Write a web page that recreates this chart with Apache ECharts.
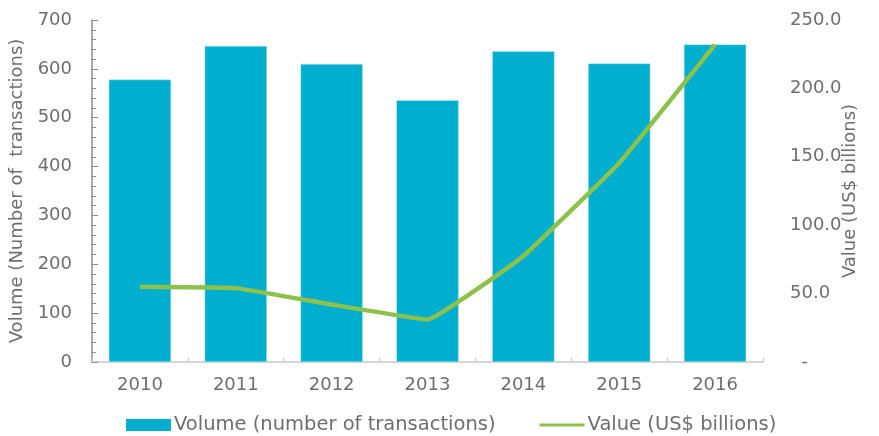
<!DOCTYPE html>
<html>
<head>
<meta charset="utf-8">
<script src="https://cdn.jsdelivr.net/npm/echarts@6/dist/echarts.min.js"></script>
<style>
  html, body { margin: 0; padding: 0; background: #fff; }
  #chart { width: 879px; height: 436px; }
</style>
</head>
<body>
<div id="chart"></div>
<script>
const years = ['2010', '2011', '2012', '2013', '2014', '2015', '2016'];
const volume = [578, 647, 610, 536, 636, 611, 650];
const valueBn = [55, 54, 42, 31, 77.5, 145.5, 232];

const grey = '#6d6e71';
const font = 'DejaVu Sans';

const chart = echarts.init(document.getElementById('chart'));

const option = {
  textStyle: { fontFamily: font },
  animation: false,
  grid: { left: 92, right: 116, top: 20, bottom: 74, outerBoundsMode: 'none' },
  legend: {
    bottom: -4,
    left: 121,
    itemWidth: 45,
    itemHeight: 12,
    itemGap: 44,
    textStyle: { fontFamily: font, fontSize: 19.5, color: grey, padding: [0, 0, 0, -2] },
    data: [
      { name: 'Volume (number of transactions)', icon: 'rect', itemStyle: { borderWidth: 0 } },
      {
        name: 'Value (US$ billions)',
        // thin bar inside a full-height box, so it is not stretched
        icon: 'path://M0,0L0.1,0M0,4.5L45,4.5L45,7.5L0,7.5ZM0,12L0.1,12',
        itemStyle: { color: '#8dc149', borderWidth: 0 }
      }
    ]
  },
  xAxis: [
    {
      type: 'category',
      data: years,
      axisLine: { lineStyle: { color: '#c8c8c8', width: 1.5 } },
      axisTick: { show: false },
      axisLabel: { color: grey, fontSize: 18, margin: 14 }
    },
    {
      // ticks at category centres and boundaries
      type: 'value',
      min: 0,
      max: 14,
      interval: 1,
      position: 'bottom',
      axisLine: { show: false },
      axisTick: { show: true, inside: true, length: 4, lineStyle: { color: '#c8c8c8' } },
      axisLabel: { show: false },
      splitLine: { show: false }
    }
  ],
  yAxis: [
    {
      type: 'value',
      min: 0,
      max: 700,
      interval: 100,
      name: 'Volume (Number of  transactions)',
      nameLocation: 'middle',
      nameGap: 66,
      nameTextStyle: { color: grey, fontSize: 18 },
      axisLine: { show: true, lineStyle: { color: '#8a8c8e', width: 1.5 } },
      axisTick: { show: true, inside: true, length: 6, lineStyle: { color: '#8a8c8e' } },
      minorTick: { show: true, splitNumber: 5, length: 4, lineStyle: { color: '#8a8c8e' } },
      axisLabel: { color: grey, fontSize: 18, margin: 20 },
      splitLine: { show: false }
    },
    {
      type: 'value',
      min: 0,
      max: 250,
      interval: 50,
      name: 'Value (US$ billions)',
      nameLocation: 'middle',
      nameGap: 78,
      nameMoveOverlap: false,
      nameRotate: 90,
      nameTextStyle: { color: grey, fontSize: 18 },
      axisLine: { show: false },
      axisTick: { show: false },
      axisLabel: {
        color: grey,
        fontSize: 18,
        margin: 27,
        align: 'left',
        formatter: v => (v === 0 ? '  -' : v.toFixed(1))
      },
      splitLine: { show: false }
    }
  ],
  series: [
    {
      name: 'Volume (number of transactions)',
      type: 'bar',
      data: volume,
      barWidth: '65%',
      itemStyle: { color: '#00afcf', borderColor: '#bfe8f2', borderWidth: 0.5 }
    },
    {
      name: 'Value (US$ billions)',
      type: 'line',
      yAxisIndex: 1,
      data: valueBn,
      smooth: 0.08,
      symbol: 'none',
      lineStyle: { color: '#8dc149', width: 4.5 },
      itemStyle: { color: '#8dc149' }
    }
  ]
};

chart.setOption(option);
</script>
</body>
</html>
